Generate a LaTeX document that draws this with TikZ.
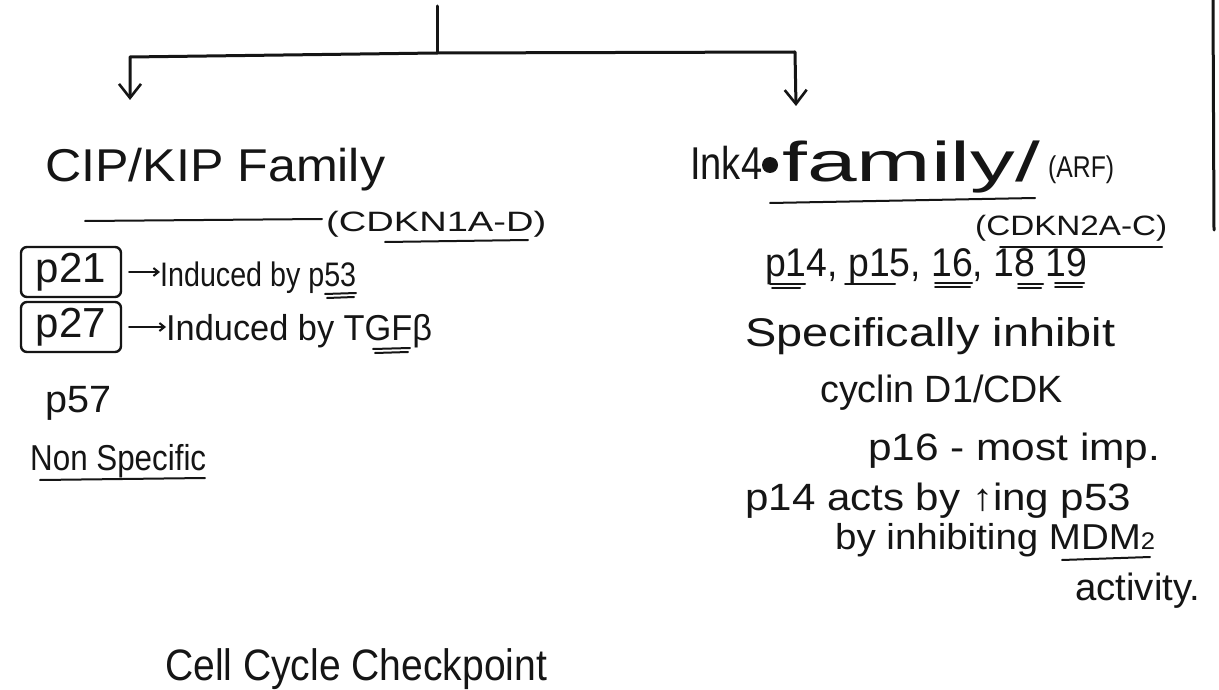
\documentclass[tikz,border=0pt]{standalone}
\usepackage{fontspec}
\setmainfont{Liberation Sans}
\usetikzlibrary{arrows.meta}
% stretch a text to a given width while keeping its height
\newcommand\fitto[2]{\resizebox{#1pt}{\height}{#2}}
\newcommand\fs[1]{\fontsize{#1}{#1}\selectfont}
\definecolor{inkc}{HTML}{151515}
\begin{document}
\begin{tikzpicture}[x=1pt,y=-1pt,
  ink/.style={draw=inkc,line width=3pt,line cap=round,line join=round},
  thin/.style={draw=inkc,line width=2pt,line cap=round},
  txt/.style={anchor=base west,inner sep=0pt,text=inkc},
  boxed/.style={draw=inkc,line width=2.4pt,rounded corners=6pt,text=inkc,
    minimum width=100pt,minimum height=50pt,inner sep=0pt},
  tip/.style={-{Straight Barb[length=14pt,width=22pt,line width=2.6pt]}},
  small/.style={-{Straight Barb[length=5pt,width=8pt]}}]
\useasboundingbox (0,0) rectangle (1219,690);
\fill[white] (0,0) rectangle (1219,690);

% page edge on the right
\draw[ink] (1213,0) -- (1214,230);

% branching tree at the top
\coordinate (top) at (437,6);
\coordinate (mid) at (437,53);
\coordinate (lc) at (130,57);
\coordinate (rc) at (795,52);
\coordinate (la) at (130,100);
\coordinate (ra) at (796,106);
\draw[ink] (top) -- (mid);
\draw[ink,tip] (mid) -- (lc) -- (la);
\draw[ink,tip] (mid) -- (rc) -- (ra);

% ---- left column: CIP/KIP family ----
\node[txt] (cip) at (45,182) {\fs{46}\fitto{340}{CIP/KIP Family}};
\node[txt] (cdkn1) at (326,232) {\fs{28}\fitto{220}{(CDKN1A-D)}};
\draw[thin] (85,221) -- (322,219);
\draw[thin] (385,242) -- (528,240);

\node[boxed] (p21) at (71,272) {\fs{42}p21};
\node[txt] (ind21) at (160,286) {\fs{34}\fitto{196}{Induced by p53}};
\draw[thin,small] (p21.east) ++(7,0) -- (p21.east -| ind21.west);
\draw[thin] (325,294) -- (356,293);
\draw[thin] (327,298) -- (354,297);

\node[boxed] (p27) at (71,327) {\fs{42}p27};
\node[txt] (ind27) at (166,340) {\fs{36}\fitto{266}{Induced by TGFβ}};
\draw[thin,small] (p27.east) ++(7,0) -- (p27.east -| ind27.west);
\draw[thin] (373,349) -- (410,348);
\draw[thin] (375,353) -- (408,352);

\node[txt] (p57) at (45,412) {\fs{38}\fitto{66}{p57}};
\node[txt] (nons) at (30,470) {\fs{36}\fitto{176}{Non Specific}};
\draw[thin] (40,480) -- (205,478);

\node[txt] (ccc) at (165,680) {\fs{44}\fitto{382}{Cell Cycle Checkpoint}};

% ---- right column: Ink4a family ----
\node[txt] (ink4) at (690,180) {\fs{46}\fitto{72}{Ink4}};
\fill[inkc] (770,165) circle (8pt);
\node[txt] (fam) at (782,182) {\fs{56}\fitto{258}{family/}};
\node[txt] (arf) at (1048,178) {\fs{30}\fitto{66}{(ARF)}};
\draw[thin] (770,203) -- (1035,198);
\node[txt] (cdkn2) at (975,236) {\fs{28}\fitto{192}{(CDKN2A-C)}};
\draw[thin] (1000,247) -- (1162,247);

\node[txt] (plist) at (765,276) {\fs{40}\fitto{322}{p14, p15, 16, 18 19}};
\draw[thin] (770,284) -- (805,284);
\draw[thin] (772,288) -- (800,288);
\draw[thin] (845,284) -- (895,284);
\draw[thin] (935,283) -- (972,283);
\draw[thin] (935,287) -- (970,287);
\draw[thin] (1018,284) -- (1043,284);
\draw[thin] (1018,288) -- (1041,288);
\draw[thin] (1055,283) -- (1084,283);
\draw[thin] (1055,287) -- (1082,287);

\node[txt] (spec) at (745,346) {\fs{40}\fitto{370}{Specifically inhibit}};
\node[txt] (cyc) at (820,402) {\fs{38}\fitto{243}{cyclin D1/CDK}};
\node[txt] (p16) at (868,460) {\fs{38}\fitto{292}{p16 - most imp.}};
\node[txt] (p14) at (745,510) {\fs{38}\fitto{386}{p14 acts by ↑ing p53}};
\node[txt] (inh) at (835,549) {\fs{36}\fitto{320}{by inhibiting MDM{\fs{24}2}}};
\draw[thin] (1062,560) -- (1150,557);
\node[txt] (act) at (1075,600) {\fs{38}\fitto{125}{activity.}};
\end{tikzpicture}
\end{document}
